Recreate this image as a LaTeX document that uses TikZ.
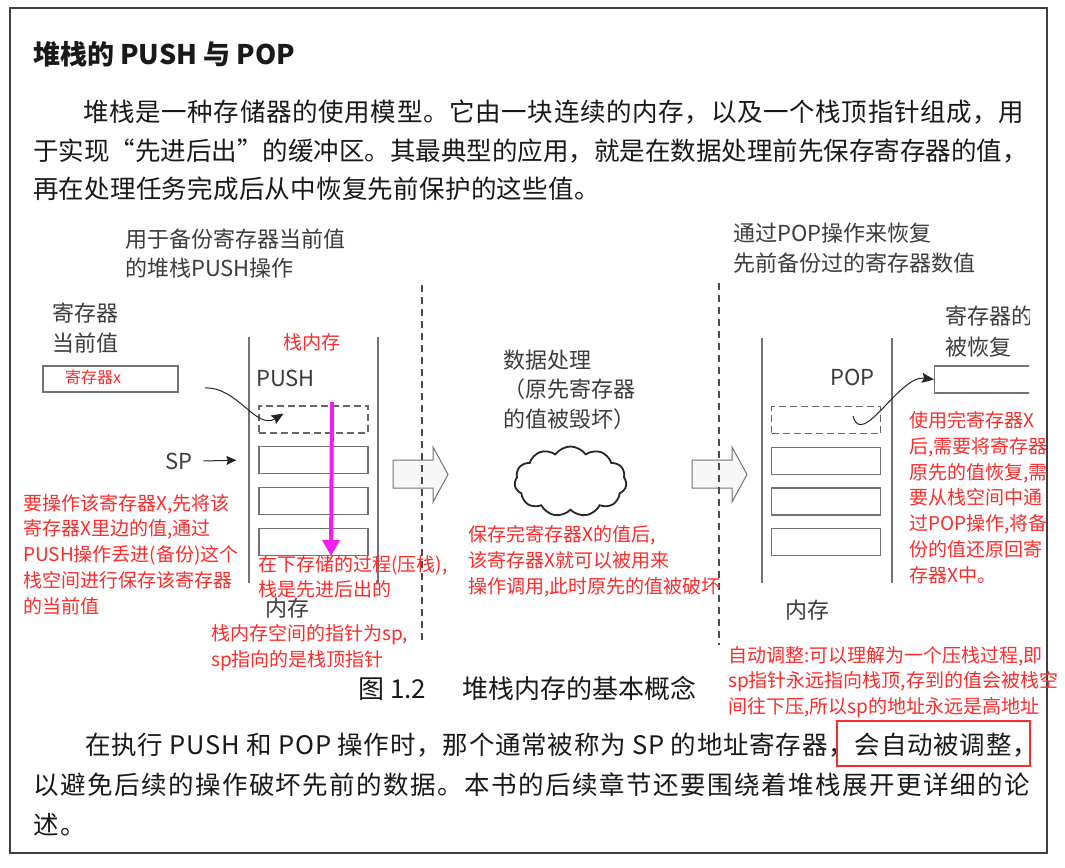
\documentclass[tikz,border=0pt]{standalone}
\usepackage{fontspec}
\setmainfont{Noto Sans CJK SC}
\usepackage{xcolor}
\usetikzlibrary{arrows.meta,shapes.symbols}
\definecolor{inkgray}{RGB}{60,60,60}
\definecolor{bodyink}{RGB}{25,25,25}
\definecolor{notered}{RGB}{250,45,45}
\definecolor{pushpink}{RGB}{240,30,240}
\definecolor{linegray}{RGB}{115,115,115}
\definecolor{arrowfill}{RGB}{247,247,247}
\newcommand\lsp[1]{\addfontfeatures{LetterSpace=#1}}
\tikzset{
	body/.style={inner sep=0pt, anchor=west, text=bodyink, font=\fontsize{25.5}{25.5}\selectfont},
	label/.style={inner sep=0pt, anchor=west, align=left, text=inkgray, font=\fontsize{22}{29.5}\selectfont},
	note/.style={inner sep=0pt, anchor=west, align=left, text=notered, font=\fontsize{19}{25.8}\selectfont},
	cell/.style={draw=linegray, line width=1.2pt, minimum width=109pt, minimum height=27pt, inner sep=0pt},
	dcell/.style={cell, draw=black!60, line width=1.3pt, dash pattern=on 7pt off 4pt},
	wall/.style={draw=linegray, line width=1.2pt},
	divider/.style={draw=black!70, line width=1.4pt, dash pattern=on 7pt off 5pt},
	bigarrow/.style={draw=linegray, fill=arrowfill, line width=1pt},
	curvarrow/.style={draw=black!85, line width=1pt, -{Stealth[length=12pt,width=10pt,inset=2pt]}},
	ptr/.style={draw=black!85, line width=1pt, -{Stealth[length=10pt,width=9pt,inset=1.5pt]}},
	pushline/.style={draw=pushpink, line width=4pt, -{Triangle[length=16pt,width=17pt]}},
	cloudy/.style={cloud, cloud puffs=11, cloud puff arc=110, aspect=1.6, draw=black!85, line width=1.8pt, minimum width=112pt, minimum height=70pt}
}
\begin{document}
\begin{tikzpicture}[x=1pt,y=-1pt]
	\useasboundingbox (0,0) rectangle (1065,867);
	\fill[white] (0,0) rectangle (1065,867);
	\draw[draw=black!75, line width=1.6pt] (10,8) rectangle (1047,853);

	% text of the page
	\node[body, font=\bfseries\fontsize{27}{27}\selectfont] (title) at (33,54) {堆栈的 PUSH 与 POP};
	\node[body] (p1a) at (83,112) {\lsp{2.6}堆栈是一种存储器的使用模型。它由一块连续的内存，以及一个栈顶指针组成，用};
	\node[body] (p1b) at (33,151) {于实现“先进后出”的缓冲区。其最典型的应用，就是在数据处理前先保存寄存器的值，};
	\node[body] (p1c) at (33,189) {\lsp{1}再在处理任务完成后从中恢复先前保护的这些值。};
	\node[body, font=\fontsize{26}{26}\selectfont] (caption) at (358,688) {图 1.2\hspace{36pt}堆栈内存的基本概念};
	\node[body] (p2a) at (85,745) {\lsp{3}在执行 PUSH 和 POP 操作时，那个通常被称为 SP 的地址寄存器，会自动被调整，};
	\node[body] (p2b) at (33,785) {\lsp{5.8}以避免后续的操作破坏先前的数据。本书的后续章节还要围绕着堆栈展开更详细的论};
	\node[body] (p2c) at (33,825) {\lsp{5.8}述。};
	\draw[draw=notered, line width=2pt] (837,721) rectangle (1030,766);

	% PUSH side
	\node[label] (pushcap) at (125,253.5) {用于备份寄存器当前值\\的堆栈PUSH操作};
	\node[label] (regcap) at (52,328) {寄存器\\当前值};
	\node[cell, minimum width=135pt, minimum height=26pt] (regx) at (110.5,379) {};
	\node[note, font=\fontsize{16}{16}\selectfont] (regxlbl) at (65,377) {寄存器x};
	\draw[wall] (249,337) -- (249,583);
	\draw[wall] (378,337) -- (378,583);
	\node[note] (stackmem) at (283,342) {栈内存};
	\node[label] (push) at (256,378) {PUSH};
	\node[dcell] (a0) at (313.5,419.5) {};
	\foreach \i in {1,2,3}
		\node[cell] (a\i) at (313.5,419.5+40.7*\i) {};
	\node[label] (sp) at (165,461) {SP};
	\node[label] (memA) at (265,608) {内存};
	\coordinate (xsrc) at (205,388);
	\draw[curvarrow] (xsrc) to[out=3,in=212] ([xshift=-30pt,yshift=6pt]a0.center);
	\draw[ptr] ([xshift=11pt]sp.east) -- ([xshift=-22pt]a1.west);
	\coordinate (pdtop) at (332,402);
	\coordinate (pdbot) at (331,556);
	\draw[pushline] (pdtop) -- (pdbot);
	\node[note] (pushnote) at (23,554.5) {要操作该寄存器X,先将该\\寄存器X里边的值,通过\\PUSH操作丢进(备份)这个\\栈空间进行保存该寄存器\\的当前值};
	\node[note, font=\fontsize{19}{24.5}\selectfont] (downnote) at (258,577) {在下存储的过程(压栈),\\栈是先进后出的};
	\node[note, font=\fontsize{19}{26}\selectfont] (spnote) at (211,648) {栈内存空间的指针为sp,\\sp指向的是栈顶指针};

	% data processing
	\foreach \x in {393,692}
		\draw[bigarrow] (\x,460) -- (\x+40,460) -- (\x+40,447) -- (\x+55,474.5) -- (\x+40,502) -- (\x+40,488) -- (\x,488) -- cycle;
	\draw[divider] (422,285) -- (422,642);
	\draw[divider] (719,283) -- (719,645);
	\node[label] (proc) at (503,389.5) {数据处理\\（原先寄存器\\的值被毁坏）};
	\node[cloudy] (cloud) at (570.5,481.5) {};
	\node[note, font=\fontsize{19}{26}\selectfont] (procnote) at (468,561) {保存完寄存器X的值后,\\该寄存器X就可以被用来\\操作调用,此时原先的值被破坏};

	% POP side
	\node[label] (popcap) at (733,248) {通过POP操作来恢复\\先前备份过的寄存器数值};
	\draw[wall] (762,338) -- (762,583);
	\draw[wall] (892,338) -- (892,583);
	\node[label] (pop) at (830,377) {POP};
	\node[dcell] (b0) at (826,420) {};
	\foreach \i in {1,2,3}
		\node[cell] (b\i) at (826,420+40.7*\i) {};
	\node[label] (memB) at (785,610) {内存};
	\begin{scope}
		\clip (0,0) rectangle (1029,867);
		\node[cell, minimum width=100pt, anchor=west] (restore) at (934,379.5) {};
		\node[label, font=\fontsize{22}{31}\selectfont] (restcap) at (945,331.5) {寄存器的\\被恢复};
	\end{scope}
	\draw[curvarrow] ([xshift=27pt,yshift=4pt]b0.center) to[out=-75,in=172] (restore.west);
	\node[note] (popnote) at (909,497.5) {使用完寄存器X\\后,需要将寄存器\\原先的值恢复,需\\要从栈空间中通\\过POP操作,将备\\份的值还原回寄\\存器X中。};
	\node[note, font=\fontsize{19}{25.5}\selectfont] (adjnote) at (728,682) {自动调整:可以理解为一个压栈过程,即\\sp指针永远指向栈顶,存到的值会被栈空\\间往下压,所以sp的地址永远是高地址};
\end{tikzpicture}
\end{document}
